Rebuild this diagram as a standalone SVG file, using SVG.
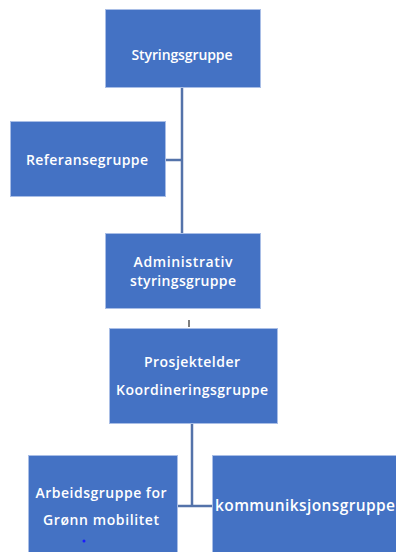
<svg xmlns="http://www.w3.org/2000/svg" width="396" height="552" viewBox="0 0 396 552">
<style>
.box{fill:#4472C4;stroke:#A9BEE6;stroke-width:1}
.t{font-family:"Open Sans","Liberation Sans",sans-serif;font-size:14px;font-weight:600;fill:#fff;text-anchor:middle}
.c{stroke:#5473AA;stroke-width:2.5;fill:none}
</style>
<rect width="396" height="552" fill="#fff"/>
<g id="connectors">
<path class="c" d="M182,88 V233"/>
<path class="c" d="M166,160 H182"/>
<path d="M189,320 V327" stroke="#7f7f7f" stroke-width="2" fill="none"/>
<path class="c" d="M192,424 V507"/>
<path class="c" d="M178,506 H212"/>
</g>
<g id="styringsgruppe">
<rect class="box" x="105.5" y="9.5" width="155" height="78"/>
<text class="t" x="182" y="60" textLength="101">Styringsgruppe</text>
</g>
<g id="referansegruppe">
<rect class="box" x="10.5" y="121.5" width="155" height="75"/>
<text class="t" x="87" y="165" textLength="122">Referansegruppe</text>
</g>
<g id="administrativ">
<rect class="box" x="105.5" y="233.5" width="155" height="75"/>
<text class="t" x="183" y="267" textLength="99">Administrativ</text>
<text class="t" x="183" y="286" textLength="106">styringsgruppe</text>
</g>
<g id="prosjektelder">
<rect class="box" x="109.5" y="328.5" width="168" height="95"/>
<text class="t" x="192" y="367" textLength="96">Prosjektelder</text>
<text class="t" x="192" y="395" textLength="152">Koordineringsgruppe</text>
</g>
<g id="arbeidsgruppe">
<rect class="box" x="28.5" y="455.5" width="149" height="100"/>
<text class="t" x="101" y="498" textLength="131">Arbeidsgruppe for</text>
<text class="t" x="101" y="525" textLength="116">Grønn mobilitet</text>
<circle cx="84" cy="541" r="1.5" fill="#1a1aff"/>
</g>
<g id="kommuniksjonsgruppe">
<rect class="box" x="212.5" y="455.5" width="190" height="100"/>
<text class="t" x="305" y="511" textLength="180" style="font-size:15.5px">kommuniksjonsgruppe</text>
</g>
</svg>
